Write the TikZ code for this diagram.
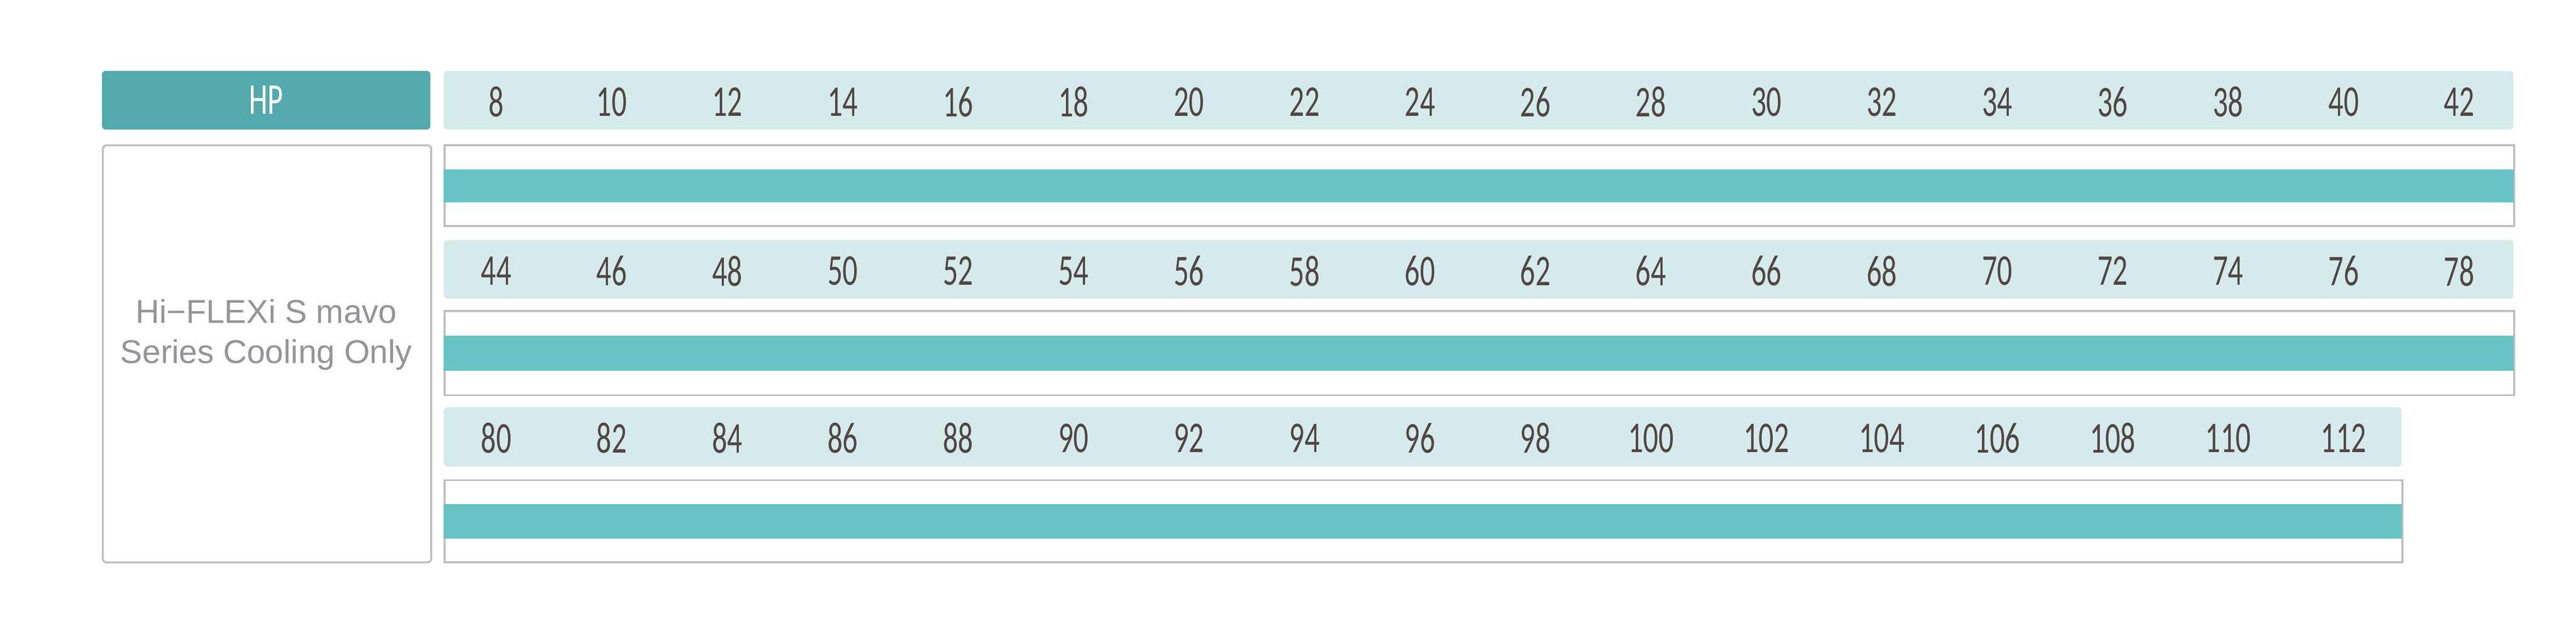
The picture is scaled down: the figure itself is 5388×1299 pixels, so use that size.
\documentclass[tikz,border=0pt]{standalone}
\usepackage{fontspec}
\setmainfont{Liberation Sans}
\newfontfamily\numfont[FakeStretch=0.68]{Carlito}
\usetikzlibrary{positioning}
\definecolor{hpteal}{HTML}{52AAAD}
\definecolor{hdrlight}{HTML}{D5EBEB}
\definecolor{barteal}{HTML}{66C4C5}
\definecolor{framegray}{HTML}{BEBEBE}
\definecolor{numcol}{HTML}{524545}
\definecolor{txtgray}{HTML}{939598}
\tikzset{
  hpbox/.style={fill=hpteal, draw=none, rounded corners=8pt, anchor=north west, inner sep=0pt, font=\numfont\fontsize{92}{96}\selectfont, text=white},
  hdrbox/.style={fill=hdrlight, draw=none, rounded corners=8pt, anchor=north west, inner sep=0pt},
  framebox/.style={draw=framegray, line width=4pt, fill=white, anchor=north west, inner sep=0pt},
  leftbox/.style={draw=framegray, line width=4pt, fill=white, rounded corners=8pt, anchor=north west, inner sep=0pt},
  barbox/.style={fill=barteal, draw=none, anchor=west, inner sep=0pt},
  num/.style={font=\numfont\fontsize{92}{96}\selectfont, text=numcol, inner sep=0pt},
  series/.style={font=\fontsize{69}{84}\selectfont, text=txtgray, align=center, inner sep=0pt}
}
\begin{document}
\begin{tikzpicture}[x=1pt,y=-1pt]
\useasboundingbox (0,0) rectangle (5388,1299);
% HP header
\node[hpbox, minimum width=687pt, minimum height=123pt] (hp) at (213,148) {HP};
% left description box
\node[leftbox, minimum width=687pt, minimum height=873pt] (left) at (213,302) {};
\node[series] (desc) at (557,700) {Hi−FLEXi S mavo\\Series Cooling Only};
% row 1
\node[hdrbox, minimum width=4329pt, minimum height=123pt] (h1) at (928,148) {};
\node[framebox, minimum width=4329pt, minimum height=169pt] (f1) at (928,302) {};
\node[barbox, minimum width=4329pt, minimum height=69pt] (b1) at (f1.west) {};
% row 2
\node[hdrbox, minimum width=4329pt, minimum height=123pt] (h2) at (928,502) {};
\node[framebox, minimum width=4329pt, minimum height=176pt] (f2) at (928,649) {};
\node[barbox, minimum width=4329pt, minimum height=73pt] (b2) at (f2.west) {};
% row 3
\node[hdrbox, minimum width=4095pt, minimum height=124pt] (h3) at (928,852) {};
\node[framebox, minimum width=4095pt, minimum height=172pt] (f3) at (928,1003) {};
\node[barbox, minimum width=4095pt, minimum height=72pt] (b3) at (f3.west) {};
% numbers
\foreach \v [count=\i from 0] in {8,10,12,14,16,18,20,22,24,26,28,30,32,34,36,38,40,42}
  \node[num] (n1-\i) at (1038+241.5*\i, 213) {\v};
\foreach \v [count=\i from 0] in {44,46,48,50,52,54,56,58,60,62,64,66,68,70,72,74,76,78}
  \node[num] (n2-\i) at (1038+241.5*\i, 567) {\v};
\foreach \v [count=\i from 0] in {80,82,84,86,88,90,92,94,96,98,100,102,104,106,108,110,112}
  \node[num] (n3-\i) at (1038+241.5*\i, 917) {\v};
\end{tikzpicture}
\end{document}
